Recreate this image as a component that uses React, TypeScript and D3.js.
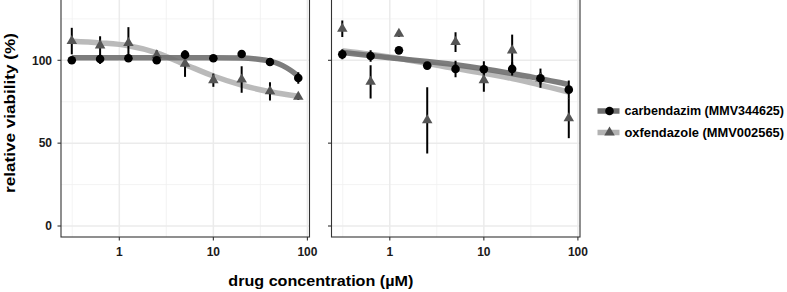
import React from "react";
import * as d3 from "d3";

const concentrations = [0.3125, 0.625, 1.25, 2.5, 5, 10, 20, 40, 80];

// Panel 1
const p1CarbMean = [100, 100.8, 101.2, 100, 103.4, 101.2, 103.8, 99, 89.3];
const p1CarbErr = [2, 3, 1.5, 1.5, 1.5, 1.5, 1.5, 1.5, 3.5];
const p1OxfMean = [111.6, 109, 110.4, 103, 98, 88, 88.4, 81.3, 78];
const p1OxfErr = [8, 5.5, 9.6, 3, 8, 4, 8, 5.5, 2];
const p1CarbFitX = [0.3125, 1, 5, 10, 20, 30, 40, 50, 60, 70, 80];
const p1CarbFitY = [101.6, 101.6, 101.6, 101.6, 101.4, 100.6, 99.5, 97.8, 95.5, 93, 90.3];
const p1OxfFitX = [0.3125, 0.625, 1.25, 2.5, 5, 10, 20, 40, 80];
const p1OxfFitY = [111.5, 110.5, 108.8, 104.5, 97.5, 90.5, 85, 81, 78.3];

// Panel 2
const p2CarbMean = [103.6, 102.6, 106, 96.8, 94.8, 94.6, 94.8, 89.2, 82.3];
const p2CarbErr = [3, 3.5, 1.5, 1.5, 5, 4.8, 4, 5.8, 5.5];
const p2OxfMean = [119, 87, 116, 63.8, 111, 88, 106, 89, 65];
const p2OxfErr = [5, 10, 2, 20, 6, 7, 9.5, 3.6, 12];
const p2CarbFitX = [0.3125, 1, 5, 20, 80];
const p2CarbFitY = [104.7, 101.5, 97.3, 92, 85.4];
const p2OxfFitX = [0.3125, 1, 5, 20, 80];
const p2OxfFitY = [105.8, 102, 95, 89, 80.8];

const xMajor = [1, 10, 100];
const xMinor = [0.316, 3.16, 31.6];
const yMajor = [0, 50, 100];
const yMinor = [25, 75, 125];

const seriesNames = ["carbendazim (MMV344625)", "oxfendazole (MMV002565)"];

const W = 787;
const H = 292;
const panelTop = -3;
const panelBottom = 237;
const panelW = 248.5;
const panelLefts = [61, 331.5];
const decadeW = 94.05;
const xOffset1 = 119.3 - 61; // position of 1 µM inside a panel

const y = d3.scaleLinear().domain([0, 100]).range([226, 60.3]);

const darkLine = "#6f6f6f";
const lightLine = "#b2b2b2";
const triFill = "#555555";
const font = "'Liberation Sans', Arial, Helvetica, sans-serif";

type PanelData = {
  carbMean: number[];
  carbErr: number[];
  oxfMean: number[];
  oxfErr: number[];
  carbFitX: number[];
  carbFitY: number[];
  oxfFitX: number[];
  oxfFitY: number[];
};

const panels: PanelData[] = [
  {
    carbMean: p1CarbMean, carbErr: p1CarbErr, oxfMean: p1OxfMean, oxfErr: p1OxfErr,
    carbFitX: p1CarbFitX, carbFitY: p1CarbFitY, oxfFitX: p1OxfFitX, oxfFitY: p1OxfFitY,
  },
  {
    carbMean: p2CarbMean, carbErr: p2CarbErr, oxfMean: p2OxfMean, oxfErr: p2OxfErr,
    carbFitX: p2CarbFitX, carbFitY: p2CarbFitY, oxfFitX: p2OxfFitX, oxfFitY: p2OxfFitY,
  },
];

const triPath = (cx: number, cy: number, s: number) => {
  const h = s * 0.866;
  return `M${cx},${cy - (2 * h) / 3}L${cx + s / 2},${cy + h / 3}L${cx - s / 2},${cy + h / 3}Z`;
};

function Panel({ idx, data }: { idx: number; data: PanelData }) {
  const left = panelLefts[idx];
  const x0 = left + xOffset1;
  const x = d3.scaleLog().domain([1, 100]).range([x0, x0 + 2 * decadeW]);
  const line = d3
    .line<[number, number]>()
    .x((d) => x(d[0]))
    .y((d) => y(d[1]))
    .curve(d3.curveMonotoneX);
  const carbFit = line(data.carbFitX.map((v, i) => [v, data.carbFitY[i]]) as [number, number][]) || "";
  const oxfFit = line(data.oxfFitX.map((v, i) => [v, data.oxfFitY[i]]) as [number, number][]) || "";
  const clipId = `clip${idx}`;
  return (
    <g>
      <defs>
        <clipPath id={clipId}>
          <rect x={left} y={panelTop} width={panelW} height={panelBottom - panelTop} />
        </clipPath>
      </defs>
      <rect x={left} y={panelTop} width={panelW} height={panelBottom - panelTop} fill="#fff" />
      {yMinor.map((v) => (
        <line key={"ym" + v} x1={left} x2={left + panelW} y1={y(v)} y2={y(v)} stroke="#f0f0f0" strokeWidth={0.8} />
      ))}
      {xMinor.map((v) => (
        <line key={"xm" + v} x1={x(v)} x2={x(v)} y1={panelTop} y2={panelBottom} stroke="#f0f0f0" strokeWidth={0.8} />
      ))}
      {yMajor.map((v) => (
        <line key={"yM" + v} x1={left} x2={left + panelW} y1={y(v)} y2={y(v)} stroke="#ebebeb" strokeWidth={1.5} />
      ))}
      {xMajor.map((v) => (
        <line key={"xM" + v} x1={x(v)} x2={x(v)} y1={panelTop} y2={panelBottom} stroke="#ebebeb" strokeWidth={1.5} />
      ))}
      <g clipPath={`url(#${clipId})`}>
        <path d={oxfFit} fill="none" stroke={lightLine} strokeWidth={5.5} strokeOpacity={0.9} strokeLinecap="butt" />
        <path d={carbFit} fill="none" stroke={darkLine} strokeWidth={5.5} strokeOpacity={0.9} strokeLinecap="butt" />
        {concentrations.map((c, i) => (
          <line key={"eo" + i} x1={x(c)} x2={x(c)} y1={y(data.oxfMean[i] - data.oxfErr[i])} y2={y(data.oxfMean[i] + data.oxfErr[i])} stroke="#000" strokeWidth={2} />
        ))}
        {concentrations.map((c, i) => (
          <line key={"ec" + i} x1={x(c)} x2={x(c)} y1={y(data.carbMean[i] - data.carbErr[i])} y2={y(data.carbMean[i] + data.carbErr[i])} stroke="#000" strokeWidth={2} />
        ))}
        {concentrations.map((c, i) => (
          <path key={"t" + i} d={triPath(x(c), y(data.oxfMean[i]), 10.5)} fill={triFill} />
        ))}
        {concentrations.map((c, i) => (
          <circle key={"c" + i} cx={x(c)} cy={y(data.carbMean[i])} r={4.3} fill="#000" />
        ))}
      </g>
      <rect x={left} y={panelTop} width={panelW} height={panelBottom - panelTop} fill="none" stroke="#333" strokeWidth={1.1} />
      {yMajor.map((v) => (
        <line key={"yt" + v} x1={left - 3.5} x2={left} y1={y(v)} y2={y(v)} stroke="#333" strokeWidth={1.1} />
      ))}
      {xMajor.map((v) => (
        <line key={"xt" + v} x1={x(v)} x2={x(v)} y1={panelBottom} y2={panelBottom + 3.5} stroke="#333" strokeWidth={1.1} />
      ))}
      {xMajor.map((v) => (
        <text key={"xl" + v} x={x(v)} y={255.5} textAnchor="middle" fontFamily={font} fontWeight="bold" fontSize={12} fill="#1a1a1a">
          {d3.format("d")(v)}
        </text>
      ))}
      {idx === 0 &&
        yMajor.map((v) => (
          <text key={"yl" + v} x={left - 9} y={y(v) + 4.3} textAnchor="end" fontFamily={font} fontWeight="bold" fontSize={12} fill="#1a1a1a">
            {v}
          </text>
        ))}
    </g>
  );
}

export default function App() {
  const legendX = 598;
  const legendRows = [111, 132.5];
  return (
    <svg width={W} height={H} style={{ display: "block", position: "absolute", left: 0, top: 0 }}>
      <rect x={0} y={0} width={W} height={H} fill="#fff" />
      {panels.map((p, i) => (
        <Panel key={i} idx={i} data={p} />
      ))}
      <text x={320.8} y={285.5} textAnchor="middle" fontFamily={font} fontWeight="bold" fontSize={15} textLength={185} lengthAdjust="spacingAndGlyphs" fill="#000">
        drug concentration (µM)
      </text>
      <text transform={`translate(15,113) rotate(-90)`} textAnchor="middle" fontFamily={font} fontWeight="bold" fontSize={15} textLength={160} lengthAdjust="spacingAndGlyphs" fill="#000">
        relative viability (%)
      </text>
      {seriesNames.map((name, i) => (
        <g key={name}>
          <line x1={legendX - 0.5} x2={legendX + 21.5} y1={legendRows[i]} y2={legendRows[i]} stroke={i === 0 ? darkLine : lightLine} strokeWidth={5.5} />
          {i === 0 ? (
            <circle cx={legendX + 11.5} cy={legendRows[i]} r={4.3} fill="#000" />
          ) : (
            <path d={triPath(legendX + 11.5, legendRows[i], 10.5)} fill={triFill} />
          )}
          <text x={624.5} y={legendRows[i] + 4.3} fontFamily={font} fontWeight="bold" fontSize={12} textLength={159.5} lengthAdjust="spacingAndGlyphs" fill="#000">
            {name}
          </text>
        </g>
      ))}
    </svg>
  );
}
